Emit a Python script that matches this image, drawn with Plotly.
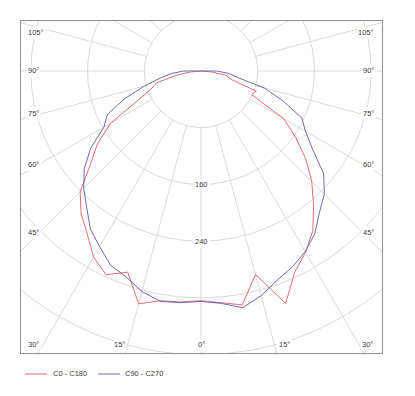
import numpy as np
import plotly.graph_objects as go

# ---------------- data ----------------
gamma = list(range(0, 95, 5))  # vertical angle, degrees from nadir

# C0 - C180 plane (red): right half = C0, left half = C180
c0 = [324, 328, 335, 297, 349, 313, 295, 275, 247, 221, 193, 163, 135, 79, 83, 42, 37, 15, 0]
c180 = [324, 327, 329, 340, 302, 317, 303, 280, 263, 241, 203, 178, 147, 99, 75, 65, 36, 14, 0]

# C90 - C270 plane (blue): right half = C90, left half = C270
c90 = [325, 329, 339, 328, 314, 305, 294, 280, 260, 246, 226, 192, 170, 157, 123, 92, 52, 40, 22]
c270 = [325, 328, 330, 322, 309, 302, 286, 272, 251, 234, 215, 190, 158, 146, 115, 83, 59, 42, 25]

series_names = ["C0 - C180", "C90 - C270"]
ring_values = [80, 160, 240, 320, 400]
ring_label_values = [160, 240]
spoke_angles = list(range(0, 360, 15))
side_labels = ["105°", "90°", "75°", "60°", "45°"]
bottom_labels = ["30°", "15°", "0°", "15°", "30°"]

# ---------------- styling / geometry ----------------
OFF = 8                   # default page body margin in the written html
W, H = 415 - OFF, 396 - OFF
PL, PT, PW, PH = 21, 21, 361, 332   # plot frame in window pixels
L, T = PL - OFF, PT - OFF
R, B = W - L - PW, H - T - PH
CX, CY = 201, 71          # window pixel position of the pole
S = 0.709                 # pixels per intensity unit
FONT = "Liberation Sans"
FS = 7.5
TXT = "#3a3a3a"
GRID = "#dadada"
RED = "#e66b78"
BLUE = "#6a6cb2"

x_range = [-(CX - PL) / S, (PL + PW - CX) / S]
y_range = [-(PT + PH - CY) / S, (CY - PT) / S]


def loop(right, left):
    g = np.radians(gamma)
    r = np.asarray(right, float)
    l = np.asarray(left, float)
    xr, yr = r * np.sin(g), -r * np.cos(g)
    xl, yl = -l * np.sin(g), -l * np.cos(g)
    x = np.concatenate([xl[::-1], xr[1:], xl[-1:]])
    y = np.concatenate([yl[::-1], yr[1:], yl[-1:]])
    return x, y


fig = go.Figure()
for name, (rt, lt), col in [(series_names[0], (c0, c180), RED),
                            (series_names[1], (c90, c270), BLUE)]:
    x, y = loop(rt, lt)
    fig.add_trace(go.Scatter(x=x, y=y, mode="lines", name=name,
                             line=dict(color=col, width=1), showlegend=False,
                             hoverinfo="skip"))

shapes = []
for v in ring_values:
    shapes.append(dict(type="circle", xref="x", yref="y", x0=-v, x1=v, y0=-v, y1=v,
                       line=dict(color=GRID, width=1), layer="below"))
inner = ring_values[0]
for a in spoke_angles:
    ar = np.radians(a)
    shapes.append(dict(type="line", xref="x", yref="y",
                       x0=inner * np.sin(ar), y0=-inner * np.cos(ar),
                       x1=900 * np.sin(ar), y1=-900 * np.cos(ar),
                       line=dict(color=GRID, width=1), layer="below"))


def px2paper(px, py):
    return (px - PL) / PW, (PT + PH - py) / PH


# manual legend samples
annotations = []
leg_items = [(25, 47, 51, series_names[0], RED), (98, 120, 123, series_names[1], BLUE)]
for x0, x1, xt, txt, col in leg_items:
    xa, ly = px2paper(x0, 374)
    xb, _ = px2paper(x1, 374)
    xtp, _ = px2paper(xt, 374)
    shapes.append(dict(type="line", xref="paper", yref="paper",
                       x0=xa, x1=xb, y0=ly, y1=ly, line=dict(color=col, width=1)))
    annotations.append(dict(xref="paper", yref="paper", x=xtp, y=ly,
                            text=txt, showarrow=False, xanchor="left", yanchor="middle",
                            font=dict(family=FONT, size=FS, color=TXT)))

side_y = [32.3, 70.7, 113.7, 164.7, 232.7]
for lab, py in zip(side_labels, side_y):
    for px, anchor in [(26, "left"), (375.5, "right")]:
        xp, yp = px2paper(px, py)
        annotations.append(dict(xref="paper", yref="paper", x=xp, y=yp, text=lab,
                                showarrow=False, xanchor=anchor, yanchor="middle",
                                bgcolor="white", borderpad=1,
                                font=dict(family=FONT, size=FS, color=TXT)))
bottom_x = [33.3, 119.7, 201, 284, 367.5]
for lab, px in zip(bottom_labels, bottom_x):
    xp, yp = px2paper(px, 344)
    annotations.append(dict(xref="paper", yref="paper", x=xp, y=yp, text=lab,
                            showarrow=False, xanchor="center", yanchor="middle",
                            bgcolor="white", borderpad=1,
                            font=dict(family=FONT, size=FS, color=TXT)))
for v in ring_label_values:
    annotations.append(dict(xref="x", yref="y", x=0, y=-v, text=str(v),
                            showarrow=False, xanchor="center", yanchor="middle",
                            bgcolor="white", borderpad=1,
                            font=dict(family=FONT, size=FS, color=TXT)))

axis_common = dict(showgrid=False, zeroline=False, showticklabels=False, ticks="",
                   showline=True, mirror=True, linecolor="#8f8f8f", linewidth=1,
                   fixedrange=True)
fig.update_layout(
    width=W, height=H, autosize=False,
    margin=dict(l=L, r=R, t=T, b=B, pad=0),
    paper_bgcolor="white", plot_bgcolor="white",
    xaxis=dict(range=x_range, **axis_common),
    yaxis=dict(range=y_range, **axis_common),
    shapes=shapes, annotations=annotations, showlegend=False,
    font=dict(family=FONT, size=FS, color=TXT),
)

fig.write_html("out.html")
